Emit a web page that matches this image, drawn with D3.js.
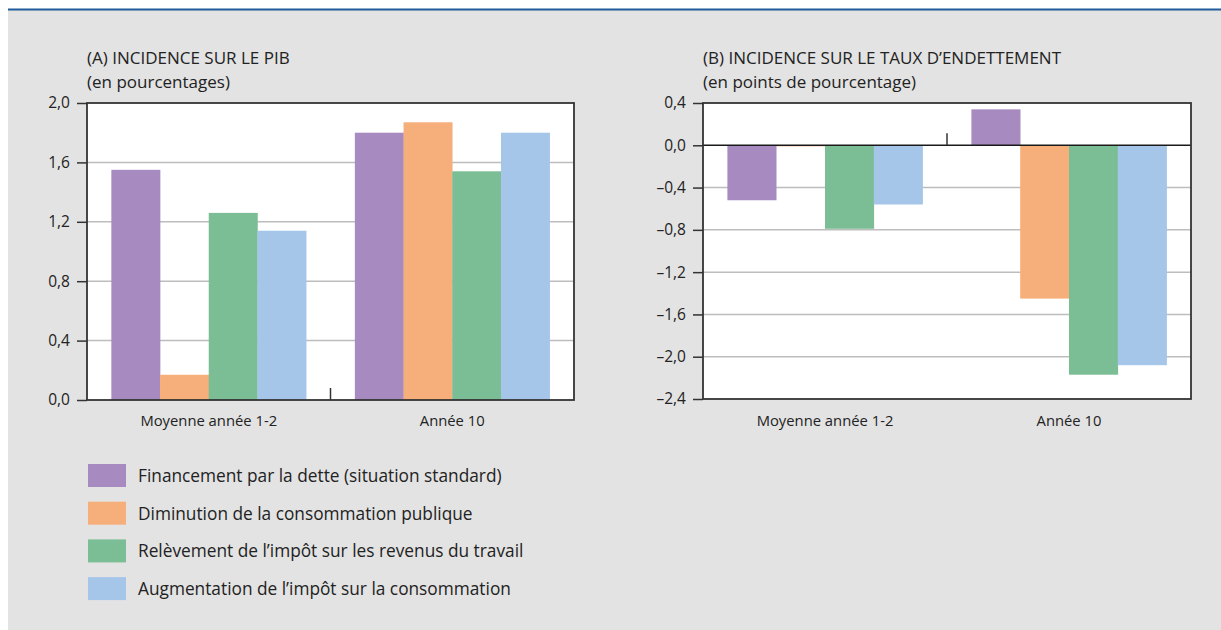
<!DOCTYPE html>
<html>
<head>
<meta charset="utf-8">
<script src="https://cdn.jsdelivr.net/npm/d3@7"></script>
<style>
  html, body { margin: 0; padding: 0; background: #ffffff; }
  svg { display: block; }
  text { font-family: "Open Sans", "Noto Sans", sans-serif; fill: #222; }
</style>
</head>
<body>
<svg id="chart" width="1221" height="630"></svg>
<script>
// ---------- DATA ----------
const categories = ["Moyenne année 1-2", "Année 10"];
const seriesNames = [
  "Financement par la dette (situation standard)",
  "Diminution de la consommation publique",
  "Relèvement de l\u2019impôt sur les revenus du travail",
  "Augmentation de l\u2019impôt sur la consommation"
];
const seriesColors = ["#a78ac0", "#f6ae7b", "#7bbd94", "#a5c6e9"];

// Panel A: incidence sur le PIB (%)
const pibDette        = [1.55, 1.80];
const pibConsPublique = [0.17, 1.87];
const pibImpotTravail = [1.26, 1.54];
const pibImpotConso   = [1.14, 1.80];

// Panel B: incidence sur le taux d'endettement (points de %)
const detDette        = [-0.52, 0.34];
const detConsPublique = [-0.01, -1.45];
const detImpotTravail = [-0.79, -2.17];
const detImpotConso   = [-0.56, -2.08];

const ticksA = [0, 0.4, 0.8, 1.2, 1.6, 2.0];
const ticksB = [-2.4, -2.0, -1.6, -1.2, -0.8, -0.4, 0, 0.4];

const titleA = ["(A) INCIDENCE SUR LE PIB", "(en pourcentages)"];
const titleB = ["(B) INCIDENCE SUR LE TAUX D\u2019ENDETTEMENT", "(en points de pourcentage)"];

// ---------- DRAW ----------
const svg = d3.select("#chart");

// background
svg.append("rect").attr("x", 8).attr("y", 10).attr("width", 1213).attr("height", 620).attr("fill", "#e3e3e3");
svg.append("rect").attr("x", 8).attr("y", 8.5).attr("width", 1213).attr("height", 2).attr("fill", "#1f5a9a");

const fmt = v => {
  const s = Math.abs(v).toFixed(1).replace(".", ",");
  return (v < -1e-9 ? "\u2013" : "") + s;
};

function panel(opts) {
  const { x0, x1, yTop, yBot, domain, ticks, data, title } = opts;
  const g = svg.append("g");
  const y = d3.scaleLinear().domain(domain).range([yBot, yTop]);
  const xBand = d3.scaleBand().domain(categories).range([x0, x1]).paddingInner(0.2).paddingOuter(0.1);
  const xSeries = d3.scaleBand().domain(d3.range(seriesNames.length)).range([0, xBand.bandwidth()]).padding(0);

  // plot bg
  g.append("rect").attr("x", x0).attr("y", yTop).attr("width", x1 - x0).attr("height", yBot - yTop).attr("fill", "#ffffff");

  // gridlines
  g.append("g").selectAll("line").data(ticks.filter(t => t !== domain[0] && t !== domain[1] && t !== 0))
    .join("line")
    .attr("x1", x0).attr("x2", x1)
    .attr("y1", d => y(d)).attr("y2", d => y(d))
    .attr("stroke", "#bdbdbd").attr("stroke-width", 1.5);

  // bars
  const rows = [];
  data.forEach((vals, si) => vals.forEach((v, ci) => rows.push({ si, ci, v })));
  g.append("g").selectAll("rect").data(rows).join("rect")
    .attr("x", d => xBand(categories[d.ci]) + xSeries(d.si))
    .attr("width", xSeries.bandwidth() + 0.3)
    .attr("y", d => Math.min(y(d.v), y(0)))
    .attr("height", d => Math.abs(y(d.v) - y(0)))
    .attr("fill", d => seriesColors[d.si]);

  // zero line
  if (domain[0] < 0) {
    g.append("line").attr("x1", x0).attr("x2", x1).attr("y1", y(0)).attr("y2", y(0))
      .attr("stroke", "#1a1a1a").attr("stroke-width", 1.5);
  }
  // separator tick between categories
  const xm = (xBand(categories[0]) + xBand.bandwidth() + xBand(categories[1])) / 2;
  g.append("line").attr("x1", xm).attr("x2", xm).attr("y1", y(0)).attr("y2", y(0) - 12)
    .attr("stroke", "#333").attr("stroke-width", 1.5);

  // frame
  g.append("rect").attr("x", x0).attr("y", yTop).attr("width", x1 - x0).attr("height", yBot - yTop)
    .attr("fill", "none").attr("stroke", "#333").attr("stroke-width", 1.8);

  // y axis
  const ax = d3.axisLeft(y).tickValues(ticks).tickSize(10).tickPadding(7).tickFormat(fmt);
  const axg = g.append("g").attr("transform", `translate(${x0},0)`).call(ax);
  axg.select(".domain").remove();
  axg.selectAll(".tick line").attr("stroke", "#333").attr("stroke-width", 1.5);
  axg.selectAll(".tick text").style("font-family", '"Open Sans", sans-serif').style("font-size", "15.5px").attr("fill", "#222");

  // category labels
  g.append("g").selectAll("text").data(categories).join("text")
    .attr("x", d => xBand(d) + xBand.bandwidth() / 2)
    .attr("y", 426)
    .attr("text-anchor", "middle")
    .style("font-size", "14.8px")
    .text(d => d);

  // two-line title
  g.append("text").attr("x", x0).attr("y", 64.2).style("font-size", "17px").text(title[0]);
  g.append("text").attr("x", x0).attr("y", 87.6).style("font-size", "17px").text(title[1]);
}

panel({ x0: 87, x1: 574, yTop: 103, yBot: 400, domain: [0, 2.0], ticks: ticksA,
  data: [pibDette, pibConsPublique, pibImpotTravail, pibImpotConso], title: titleA });
panel({ x0: 703, x1: 1191, yTop: 103, yBot: 399, domain: [-2.4, 0.4], ticks: ticksB,
  data: [detDette, detConsPublique, detImpotTravail, detImpotConso], title: titleB });

// legend
const leg = svg.append("g").selectAll("g").data(seriesNames).join("g")
  .attr("transform", (d, i) => `translate(88, ${464 + i * 37.7})`);
leg.append("rect").attr("width", 38).attr("height", 23).attr("fill", (d, i) => seriesColors[i]);
leg.append("text").attr("x", 50).attr("y", 18).style("font-size", "17.3px").text(d => d);
</script>
</body>
</html>
